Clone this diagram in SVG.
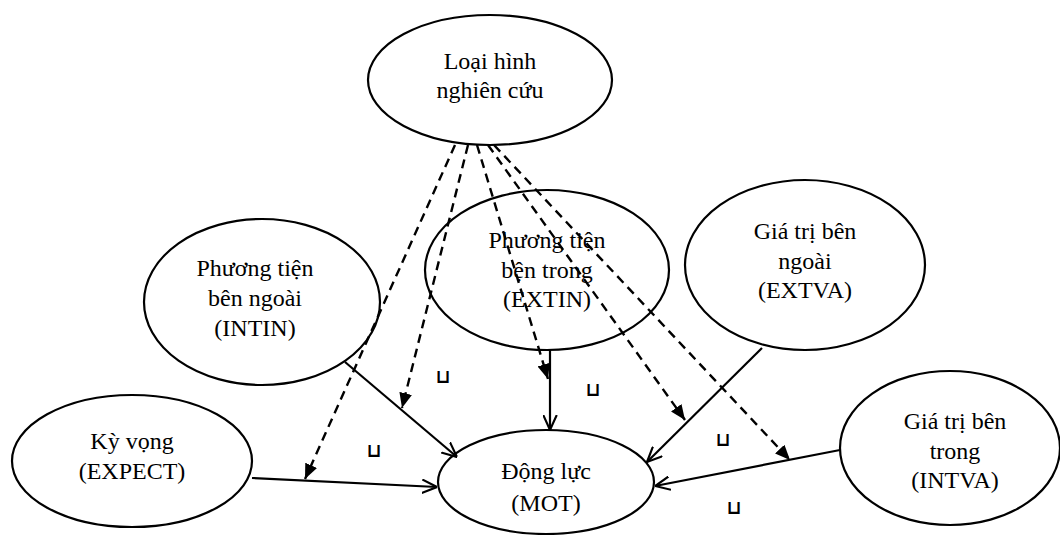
<svg xmlns="http://www.w3.org/2000/svg" width="1060" height="535" viewBox="0 0 1060 535">
<style>
.node ellipse{fill:#fff;stroke:#000;stroke-width:2.2}
.node text{font-family:"Liberation Serif","Times New Roman",serif;font-size:24px;fill:#000;text-anchor:middle}
.solid{stroke:#000;stroke-width:2.2;fill:none;marker-end:url(#open)}
.dash{stroke:#000;stroke-width:2.4;fill:none;stroke-dasharray:9,6;marker-end:url(#filled)}
.mark{font-family:"DejaVu Sans",sans-serif;font-size:19px;font-weight:bold;fill:#000;text-anchor:middle}
</style>
<defs>
<marker id="open" viewBox="0 0 14 14" refX="14" refY="7" markerWidth="15" markerHeight="15" markerUnits="userSpaceOnUse" orient="auto">
<path d="M0,0.7 L14,7 L0,13.3" fill="none" stroke="#000" stroke-width="2"/>
</marker>
<marker id="filled" viewBox="0 0 14 12" refX="14" refY="6" markerWidth="15" markerHeight="13" markerUnits="userSpaceOnUse" orient="auto">
<path d="M0,0 L14,6 L0,12 Z" fill="#000"/>
</marker>
</defs>
<g id="n-loaihinh" class="node">
<ellipse cx="490" cy="80" rx="122" ry="65"/>
<text x="490" y="69" font-family="Liberation Serif, serif">Loại hình</text>
<text x="490" y="98" font-family="Liberation Serif, serif">nghiên cứu</text>
</g>
<g id="n-intin" class="node">
<ellipse cx="262" cy="302" rx="118" ry="83"/>
<text x="255" y="276" font-family="Liberation Serif, serif">Phương tiện</text>
<text x="255" y="306" font-family="Liberation Serif, serif">bên ngoài</text>
<text x="255" y="336" font-family="Liberation Serif, serif">(INTIN)</text>
</g>
<g id="n-extin" class="node">
<ellipse cx="547" cy="270" rx="122" ry="80"/>
<text x="547" y="248" font-family="Liberation Serif, serif">Phương tiện</text>
<text x="547" y="278" font-family="Liberation Serif, serif">bện trong</text>
<text x="547" y="307" font-family="Liberation Serif, serif">(EXTIN)</text>
</g>
<g id="n-extva" class="node">
<ellipse cx="805" cy="265" rx="120" ry="85"/>
<text x="805" y="239" font-family="Liberation Serif, serif">Giá trị bên</text>
<text x="805" y="269" font-family="Liberation Serif, serif">ngoài</text>
<text x="805" y="298" font-family="Liberation Serif, serif">(EXTVA)</text>
</g>
<g id="n-expect" class="node">
<ellipse cx="132" cy="461" rx="120" ry="66"/>
<text x="132" y="449" font-family="Liberation Serif, serif">Kỳ vọng</text>
<text x="132" y="479" font-family="Liberation Serif, serif">(EXPECT)</text>
</g>
<g id="n-mot" class="node">
<ellipse cx="546" cy="482" rx="108" ry="52"/>
<text x="546" y="479" font-family="Liberation Serif, serif">Động lực</text>
<text x="546" y="511" font-family="Liberation Serif, serif">(MOT)</text>
</g>
<g id="n-intva" class="node">
<ellipse cx="950" cy="448" rx="110" ry="77"/>
<text x="955" y="429" font-family="Liberation Serif, serif">Giá trị bên</text>
<text x="955" y="459" font-family="Liberation Serif, serif">trong</text>
<text x="955" y="488" font-family="Liberation Serif, serif">(INTVA)</text>
</g>
<g id="connectors">
<line class="solid" x1="345" y1="362" x2="457" y2="457"/>
<line class="solid" x1="252" y1="478" x2="437" y2="487"/>
<line class="solid" x1="550" y1="350" x2="550" y2="430"/>
<line class="solid" x1="762" y1="348" x2="647" y2="462"/>
<line class="solid" x1="840" y1="450" x2="655" y2="486"/>
<line class="dash" x1="455" y1="145" x2="305" y2="479"/>
<line class="dash" x1="468" y1="145" x2="402" y2="408"/>
<line class="dash" x1="477" y1="145" x2="548" y2="379"/>
<line class="dash" x1="488" y1="145" x2="685" y2="420"/>
<line class="dash" x1="494" y1="145" x2="790" y2="460"/>
</g>
<g id="marks">
<text class="mark" x="443" y="383">⊔</text>
<text class="mark" x="374" y="457">⊔</text>
<text class="mark" x="593" y="396">⊔</text>
<text class="mark" x="723" y="446">⊔</text>
<text class="mark" x="734" y="514">⊔</text>
</g>
</svg>
